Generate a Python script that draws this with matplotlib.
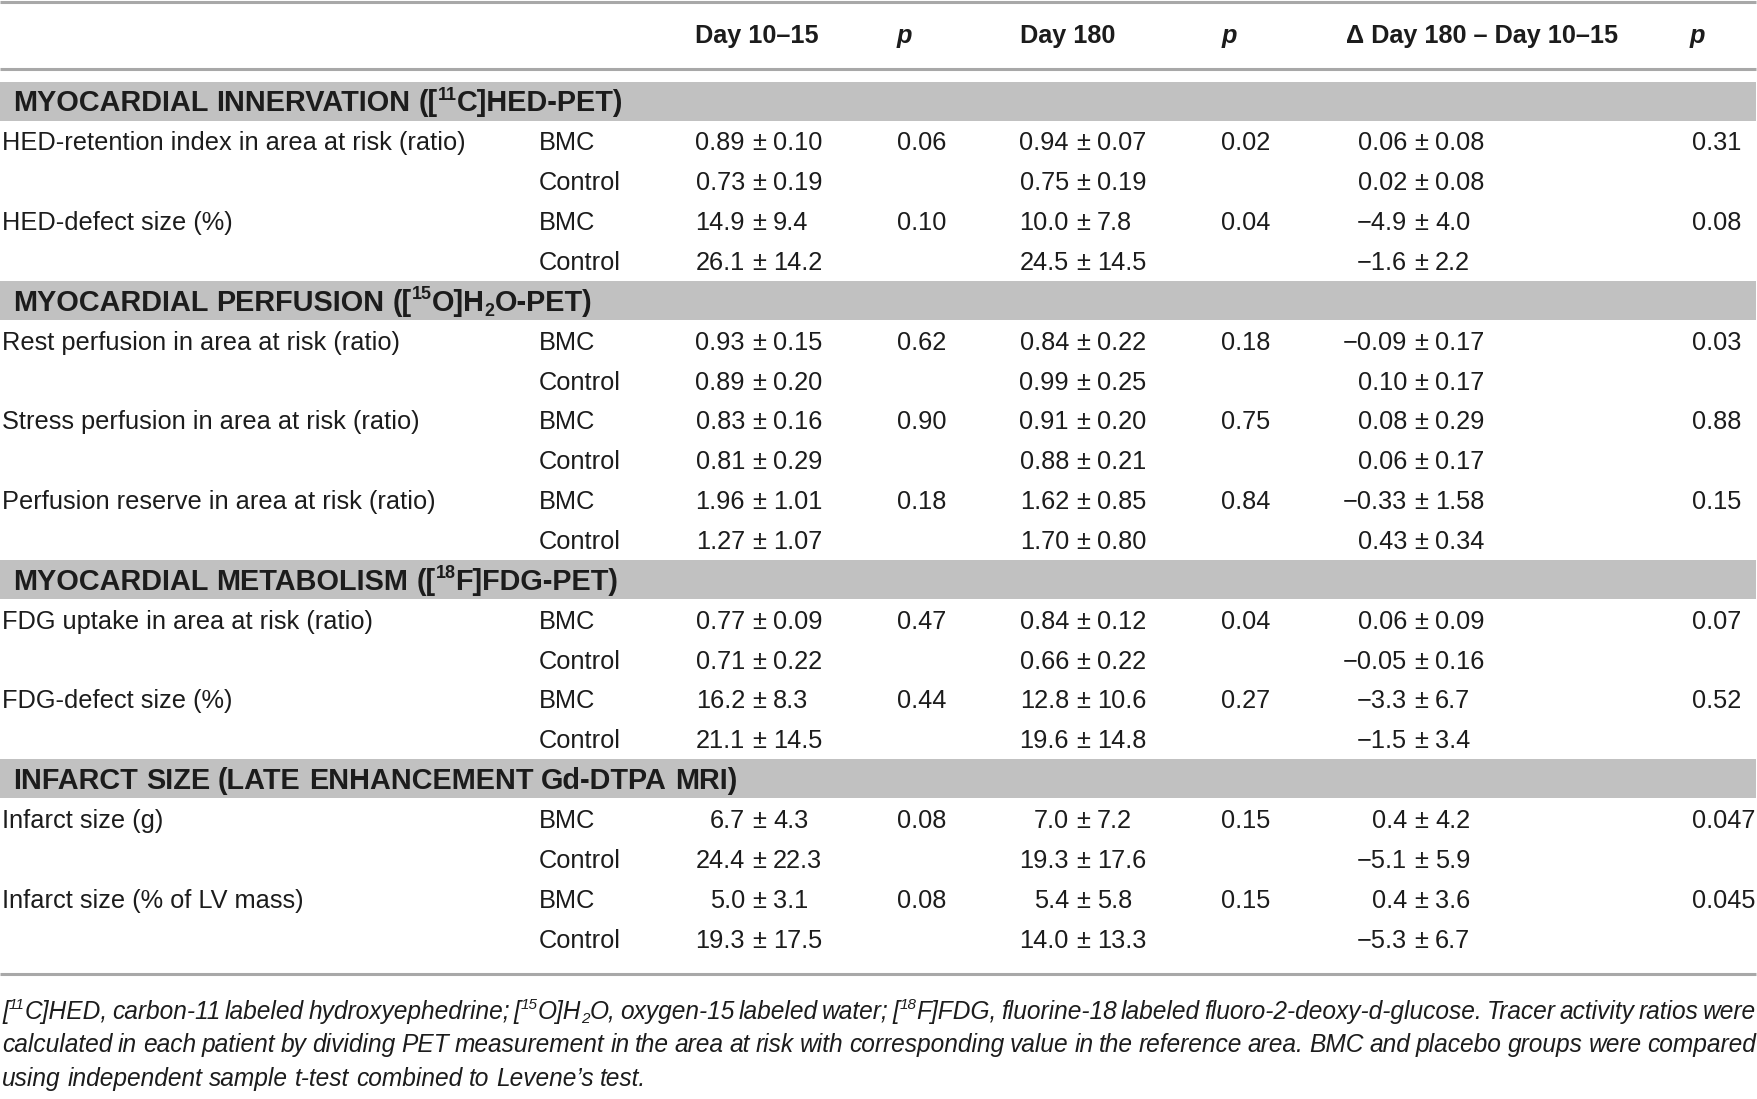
import matplotlib
matplotlib.use("Agg")
import matplotlib.pyplot as plt
from matplotlib.patches import Rectangle

plt.rcParams['font.family'] = ['Liberation Sans Narrow', 'Liberation Sans', 'DejaVu Sans']

# ---- table content -------------------------------------------------------
header_labels = ["Day 10\u201315", "p", "Day 180", "p", "\u0394 Day 180 \u2013 Day 10\u201315", "p"]

# section titles as runs of (text, kind); kind: "" normal, "sup", "sub"
section_titles = [
    [("MYOCARDIAL INNERVATION ([", ""), ("11", "sup"), ("C]HED-PET)", "")],
    [("MYOCARDIAL PERFUSION ([", ""), ("15", "sup"), ("O]H", ""), ("2", "sub"), ("O-PET)", "")],
    [("MYOCARDIAL METABOLISM ([", ""), ("18", "sup"), ("F]FDG-PET)", "")],
    [("INFARCT SIZE (LATE ENHANCEMENT Gd-DTPA MRI)", "")],
]
section_sizes = [2, 3, 2, 2]

measure_labels = [
    "HED-retention index in area at risk (ratio)",
    "HED-defect size (%)",
    "Rest perfusion in area at risk (ratio)",
    "Stress perfusion in area at risk (ratio)",
    "Perfusion reserve in area at risk (ratio)",
    "FDG uptake in area at risk (ratio)",
    "FDG-defect size (%)",
    "Infarct size (g)",
    "Infarct size (% of LV mass)",
]
groups = ["BMC", "Control"]

day10_mean = [["0.89", "0.73"], ["14.9", "26.1"], ["0.93", "0.89"], ["0.83", "0.81"],
              ["1.96", "1.27"], ["0.77", "0.71"], ["16.2", "21.1"], ["6.7", "24.4"], ["5.0", "19.3"]]
day10_sd = [["0.10", "0.19"], ["9.4", "14.2"], ["0.15", "0.20"], ["0.16", "0.29"],
            ["1.01", "1.07"], ["0.09", "0.22"], ["8.3", "14.5"], ["4.3", "22.3"], ["3.1", "17.5"]]
p_day10 = ["0.06", "0.10", "0.62", "0.90", "0.18", "0.47", "0.44", "0.08", "0.08"]

day180_mean = [["0.94", "0.75"], ["10.0", "24.5"], ["0.84", "0.99"], ["0.91", "0.88"],
               ["1.62", "1.70"], ["0.84", "0.66"], ["12.8", "19.6"], ["7.0", "19.3"], ["5.4", "14.0"]]
day180_sd = [["0.07", "0.19"], ["7.8", "14.5"], ["0.22", "0.25"], ["0.20", "0.21"],
             ["0.85", "0.80"], ["0.12", "0.22"], ["10.6", "14.8"], ["7.2", "17.6"], ["5.8", "13.3"]]
p_day180 = ["0.02", "0.04", "0.18", "0.75", "0.84", "0.04", "0.27", "0.15", "0.15"]

delta_mean = [["0.06", "0.02"], ["\u22124.9", "\u22121.6"], ["\u22120.09", "0.10"], ["0.08", "0.06"],
              ["\u22120.33", "0.43"], ["0.06", "\u22120.05"], ["\u22123.3", "\u22121.5"],
              ["0.4", "\u22125.1"], ["0.4", "\u22125.3"]]
delta_sd = [["0.08", "0.08"], ["4.0", "2.2"], ["0.17", "0.17"], ["0.29", "0.17"],
            ["1.58", "0.34"], ["0.09", "0.16"], ["6.7", "3.4"], ["4.2", "5.9"], ["3.6", "6.7"]]
p_delta = ["0.31", "0.08", "0.03", "0.88", "0.15", "0.07", "0.52", "0.047", "0.045"]

footnote_lines = [
    [("[", ""), ("11", "sup"), ("C]HED, carbon-11 labeled hydroxyephedrine; [", ""), ("15", "sup"),
     ("O]H", ""), ("2", "sub"), ("O, oxygen-15 labeled water; [", ""), ("18", "sup"),
     ("F]FDG, fluorine-18 labeled fluoro-2-deoxy-d-glucose. Tracer activity ratios were", "")],
    [("calculated in each patient by dividing PET measurement in the area at risk with "
      "corresponding value in the reference area. BMC and placebo groups were compared", "")],
    [("using independent sample t-test combined to Levene\u2019s test.", "")],
]

# ---- layout --------------------------------------------------------------
W, H = 1758, 1099
ROW = 39.86
TXT = "#1c1c1c"
BAND = "#c1c1c1"
RULE = "#a8a8a8"

fig = plt.figure(figsize=(W / 100, H / 100), dpi=100)
ax = fig.add_axes([0, 0, 1, 1])
ax.set_xlim(0, W)
ax.set_ylim(H, 0)
ax.axis("off")
renderer = fig.canvas.get_renderer()


def text_width(s, size, weight="normal", style="normal"):
    t = ax.text(0, 0, s, fontsize=size, fontweight=weight, fontstyle=style)
    w = t.get_window_extent(renderer).width
    t.remove()
    return w


def fit_size(s, target, weight="normal", style="normal"):
    return 10 * target / text_width(s, 10, weight, style)


def draw_runs(x, yc, runs, size, weight="normal", style="normal", width=None):
    em = size * 100 / 72
    base = yc + 0.36 * em
    small = size * 0.62
    pieces = []
    for text, kind in runs:
        for i, word in enumerate(text.split(" ")):
            if i > 0:
                pieces.append((None, kind))
            if word:
                pieces.append((word, kind))
    sp = text_width("x x", size, weight, style) - text_width("xx", size, weight, style)
    widths = []
    for word, kind in pieces:
        if word is None:
            widths.append(None)
        else:
            widths.append(text_width(word, small if kind else size, weight, style))
    if width is not None:
        nsp = sum(1 for w in widths if w is None)
        sp = (width - sum(w for w in widths if w is not None)) / nsp
    for (word, kind), w in zip(pieces, widths):
        if word is None:
            x += sp
            continue
        yy = base
        fs = size
        if kind == "sup":
            yy, fs = base - 0.40 * em, small
        elif kind == "sub":
            yy, fs = base + 0.18 * em, small
        ax.text(x, yy, word, fontsize=fs, fontweight=weight, fontstyle=style,
                color=TXT, va="baseline", ha="left")
        x += w


body = fit_size(measure_labels[0], 465)
head = fit_size(header_labels[4], 272, "bold")
sect = fit_size(section_titles[3][0][0], 721, "bold")
foot = fit_size(footnote_lines[2][0][0], 648, style="italic")

# rules
for y in (2, 68.5, 974):
    ax.plot([0, 1756], [y, y], color=RULE, lw=2.2, solid_capstyle="butt")

# header
head_x = [695, 897, 1020, 1222, 1346, 1690]
for hx, lab in zip(head_x, header_labels):
    ax.text(hx, 33, lab, fontsize=head, fontweight="bold",
            fontstyle="italic" if lab == "p" else "normal",
            color=TXT, va="center_baseline", ha="left")

PM_X = [759, 1083, 1421]
P_X = [897, 1221, 1692]
GAP = 14


def pm_cell(xc, y, mean, sd):
    ax.text(xc - GAP, y, mean, fontsize=body, color=TXT, va="center_baseline", ha="right")
    ax.text(xc, y, "\u00b1", fontsize=body, color=TXT, va="center_baseline", ha="center")
    ax.text(xc + GAP, y, sd, fontsize=body, color=TXT, va="center_baseline", ha="left")


y = 101.0
m = 0
for s, title in enumerate(section_titles):
    ax.add_patch(Rectangle((0, y - 19.5), 1756, 39, color=BAND, lw=0))
    draw_runs(13, y, title, sect, weight="bold")
    y += ROW
    for _ in range(section_sizes[s]):
        ax.text(2, y, measure_labels[m], fontsize=body, color=TXT, va="center_baseline")
        for p_val, px in zip((p_day10[m], p_day180[m], p_delta[m]), P_X):
            ax.text(px, y, p_val, fontsize=body, color=TXT, va="center_baseline")
        for g in range(2):
            ax.text(539, y, groups[g], fontsize=body, color=TXT, va="center_baseline")
            pm_cell(PM_X[0], y, day10_mean[m][g], day10_sd[m][g])
            pm_cell(PM_X[1], y, day180_mean[m][g], day180_sd[m][g])
            pm_cell(PM_X[2], y, delta_mean[m][g], delta_sd[m][g])
            y += ROW
        m += 1

# footnote
for i, (line, fy) in enumerate(zip(footnote_lines, (1010, 1043.5, 1077))):
    draw_runs(2, fy, line, foot, style="italic", width=1754 if i < 2 else None)

fig.savefig("out.png", dpi=100)
